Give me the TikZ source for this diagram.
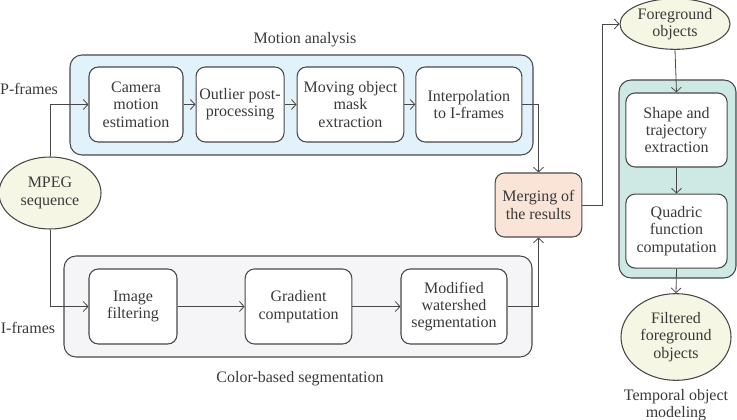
\documentclass[tikz,border=0pt]{standalone}
\usepackage{fontspec}
\setmainfont{Liberation Serif}
\usepackage{tikz}
\usetikzlibrary{shapes,arrows.meta,positioning,backgrounds}
\definecolor{inkgray}{RGB}{72,72,72}
\definecolor{txtgray}{RGB}{58,58,58}
\definecolor{motionfill}{RGB}{226,242,250}
\definecolor{colorfill}{RGB}{245,245,247}
\definecolor{mergefill}{RGB}{250,228,216}
\definecolor{temporalfill}{RGB}{206,232,227}
\definecolor{datafill}{RGB}{246,246,228}
\tikzset{%
procbox/.style={rectangle, rounded corners=7pt, draw=inkgray, thick, fill=white, align=center, inner sep=1pt, minimum height=56.25pt, text=txtgray},
panelbox/.style={draw=inkgray, thick, rounded corners=9pt},
datanode/.style={ellipse, draw=inkgray, thick, fill=datafill, align=center, inner sep=0pt, text=txtgray},
lbl/.style={text=txtgray, align=center},
pt/.style={draw=inkgray, semithick, -{Straight Barb[length=3.5pt,width=7.5pt]}}
}

\begin{document}
\begin{tikzpicture}[x=0.75pt, y=-0.75pt, font=\fontsize{12}{13}\selectfont]
		\useasboundingbox (0,0) rectangle (737,420);
		
		% panels
		\draw[panelbox, fill=motionfill] (70,55) rectangle (533,155);
		\draw[panelbox, fill=colorfill] (64,256) rectangle (532,357);
		\draw[panelbox, fill=temporalfill] (619,80) rectangle (736,278);
		
		\node[lbl] (motionlbl) at (305,40) {Motion analysis};
		\node[lbl] (colorlbl) at (300,379) {Color-based segmentation};
		\node[lbl, inner sep=0pt] (temporallbl) at (676,405) {Temporal object\\modeling};
		\node[lbl] (plbl) at (29,89) {P-frames};
		\node[lbl] (ilbl) at (28,328) {I-frames};
		
		% motion analysis
		\node[procbox, minimum width=70.5pt] (cam) at (136,104.5) {Camera\\motion\\estimation};
		\node[procbox, minimum width=66pt] (outl) [right=9pt of cam] {Outlier post-\\processing};
		\node[procbox, minimum width=80pt] (mov) [right=9pt of outl] {Moving object\\mask\\extraction};
		\node[procbox, minimum width=79.5pt] (interp) [right=8.25pt of mov] {Interpolation\\to I-frames};
		
		% color-based segmentation
		\node[procbox, minimum width=66pt] (filt) at (133,306.5) {Image\\filtering};
		\node[procbox, minimum width=80pt] (grad) at (298.5,306.5) {Gradient\\computation};
		\node[procbox, minimum width=79.5pt] (mod) at (454,306.5) {Modified\\watershed\\segmentation};
		
		\node[procbox, fill=mergefill, minimum width=65pt, minimum height=48pt] (merge) at (538.5,205) {Merging of\\the results};
		
		% temporal object modeling
		\node[procbox, minimum width=76pt, minimum height=55.5pt] (shape) at (676.5,130) {Shape and\\trajectory\\extraction};
		\node[procbox, minimum width=76pt, minimum height=55.5pt] (quad) [below=19.5pt of shape] {Quadric\\function\\computation};
		
		\node[datanode, minimum width=76.5pt, minimum height=54pt] (mpeg) at (50,193) {MPEG\\sequence};
		\node[datanode, minimum width=82.5pt, minimum height=38pt] (fg) at (675,24) {Foreground\\objects};
		\node[datanode, minimum width=82.5pt, minimum height=65pt] (ffg) at (676,337) {Filtered\\foreground\\objects};
		
		\path[pt] (mpeg.north) |- (cam.west);
		\path[pt] (mpeg.south) |- (filt.west);
		
		\path[pt] (cam) edge (outl);
		\path[pt] (outl) edge (mov);
		\path[pt] (mov) edge (interp);
		
		\path[pt] (filt) edge (grad);
		\path[pt] (grad) edge (mod);
		
		\path[pt] (interp.east) -| (merge.north);
		\path[pt] (mod.east) -| (merge.south);
		\path[pt] (merge.east) -- ++(15pt,0) |- (fg.west);
		
		\path[pt] (fg.south) -- (shape.north);
		\path[pt] (shape) edge (quad);
		\path[pt] (quad.south) -- (ffg.north);
	\end{tikzpicture}
\end{document}
